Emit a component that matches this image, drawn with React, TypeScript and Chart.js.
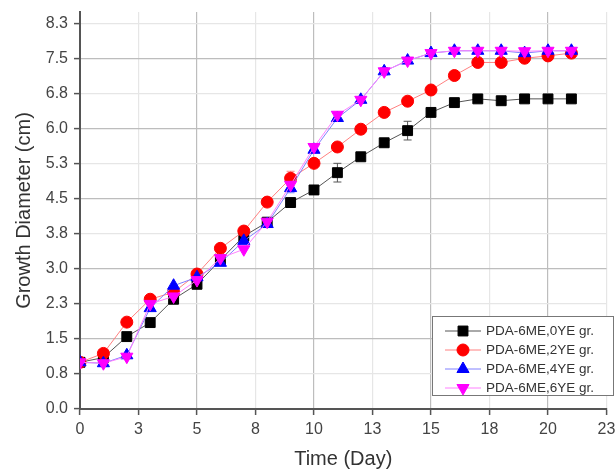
import React, { useEffect, useRef } from 'react';
import { Chart, registerables } from 'chart.js';
import { drawPoint } from 'chart.js/helpers';

Chart.register(...registerables);

const days = [0, 1, 2, 3, 4, 5, 6, 7, 8, 9, 10, 11, 12, 13, 14, 15, 16, 17, 18, 19, 20, 21];
const seriesLabels = ['PDA-6ME,0YE gr.', 'PDA-6ME,2YE gr.', 'PDA-6ME,4YE gr.', 'PDA-6ME,6YE gr.'];
const ye0 = [1.0, 1.1, 1.55, 1.85, 2.35, 2.67, 3.19, 3.7, 4.0, 4.42, 4.69, 5.06, 5.4, 5.7, 5.96, 6.35, 6.56, 6.64, 6.6, 6.64, 6.64, 6.64];
const ye2 = [1.0, 1.19, 1.86, 2.35, 2.5, 2.89, 3.44, 3.81, 4.43, 4.94, 5.26, 5.61, 5.99, 6.35, 6.59, 6.83, 7.14, 7.42, 7.42, 7.51, 7.56, 7.62];
const ye4 = [1.0, 0.98, 1.15, 2.16, 2.64, 2.82, 3.13, 3.6, 3.96, 4.73, 5.55, 6.23, 6.62, 7.23, 7.46, 7.62, 7.67, 7.67, 7.67, 7.62, 7.67, 7.67];
const ye6 = [1.0, 0.98, 1.12, 2.25, 2.41, 2.76, 3.23, 3.42, 4.01, 4.8, 5.61, 6.3, 6.62, 7.23, 7.46, 7.62, 7.67, 7.67, 7.67, 7.66, 7.67, 7.67];
const ye0Err = [0, 0, 0, 0, 0, 0, 0, 0, 0, 0, 0, 0.2, 0.05, 0, 0.2, 0, 0, 0, 0, 0, 0, 0];
const ye2Err = [0, 0, 0, 0, 0, 0, 0, 0, 0, 0.15, 0, 0, 0, 0, 0, 0, 0, 0, 0, 0, 0, 0];
const ye4Err = [0, 0, 0, 0, 0, 0, 0, 0, 0, 0.1, 0, 0, 0, 0.08, 0, 0, 0, 0, 0, 0, 0, 0];
const ye6Err = [0, 0, 0, 0, 0, 0, 0, 0, 0, 0, 0, 0, 0, 0, 0, 0, 0, 0, 0, 0, 0, 0];

const FONT = "'Liberation Sans', Arial, sans-serif";

export default function App() {
  const ref = useRef<HTMLCanvasElement>(null);

  useEffect(() => {
    if (!ref.current) return;
    const values = [ye0, ye2, ye4, ye6];
    const errs = [ye0Err, ye2Err, ye4Err, ye6Err];
    const fill = ['#000000', '#ff0000', '#0000ff', '#ff00ff'];
    const line = ['#555555', '#ff8080', '#8080ff', '#ff80ff'];
    const styles = ['rect', 'circle', 'triangle', 'triangle'];
    const radii = [7, 6, 7, 7];
    const rots = [0, 0, 0, 180];

    const errorBars = {
      id: 'errorBars',
      beforeDatasetsDraw(chart: any) {
        const ctx = chart.ctx;
        const xs = chart.scales.x;
        const ys = chart.scales.y;
        ctx.save();
        errs.forEach((arr, si) => {
          ctx.strokeStyle = line[si];
          ctx.lineWidth = 1;
          arr.forEach((e, i) => {
            if (!e) return;
            const px = xs.getPixelForValue(days[i]);
            const y1 = ys.getPixelForValue(values[si][i] + e);
            const y2 = ys.getPixelForValue(values[si][i] - e);
            ctx.beginPath();
            ctx.moveTo(px, y1); ctx.lineTo(px, y2);
            ctx.moveTo(px - 4, y1); ctx.lineTo(px + 4, y1);
            ctx.moveTo(px - 4, y2); ctx.lineTo(px + 4, y2);
            ctx.stroke();
          });
        });
        ctx.restore();
      },
    };

    const legendBox = {
      id: 'legendBox',
      afterDraw(chart: any) {
        const ctx = chart.ctx;
        ctx.save();
        ctx.fillStyle = '#ffffff';
        ctx.fillRect(432.5, 316.5, 181, 79);
        ctx.strokeStyle = '#777777';
        ctx.lineWidth = 1;
        ctx.strokeRect(432.5, 316.5, 181, 79);
        seriesLabels.forEach((lab, i) => {
          const y = 331 + i * 19;
          ctx.strokeStyle = line[i];
          ctx.lineWidth = 1;
          ctx.beginPath();
          ctx.moveTo(445, y); ctx.lineTo(481, y);
          ctx.stroke();
          ctx.fillStyle = fill[i];
          ctx.strokeStyle = fill[i];
          drawPoint(ctx, { pointStyle: styles[i], radius: radii[i], rotation: rots[i], borderWidth: 1 } as any, 463, y);
          ctx.fillStyle = '#333333';
          ctx.font = `13.5px ${FONT}`;
          ctx.textBaseline = 'middle';
          ctx.textAlign = 'left';
          ctx.fillText(lab, 486, y + 0.5);
        });
        ctx.restore();
      },
    };

    const gridColor = (c: any) => (c.index % 2 === 0 ? '#bdbdbd' : '#e6e6e6');

    const chart = new Chart(ref.current, {
      type: 'line',
      data: {
        datasets: values.map((vals, si) => ({
          label: seriesLabels[si],
          data: days.map((d, i) => ({ x: d, y: vals[i] })),
          borderColor: line[si],
          borderWidth: 1,
          backgroundColor: fill[si],
          pointBackgroundColor: fill[si],
          pointBorderColor: fill[si],
          pointBorderWidth: 1,
          pointStyle: styles[si] as any,
          pointRadius: radii[si],
          pointRotation: rots[si],
          tension: 0,
          fill: false,
          order: 4 - si,
        })),
      },
      options: {
        responsive: false,
        animation: false,
        layout: { padding: { left: 0, right: 9.5, top: 12, bottom: 0 } },
        plugins: { legend: { display: false }, tooltip: { enabled: false } },
        scales: {
          x: {
            type: 'linear',
            min: 0,
            max: 22.5,
            ticks: {
              stepSize: 2.5,
              padding: 5,
              color: '#444',
              font: { family: FONT, size: 16 },
              maxRotation: 0,
              callback: (v: any) => String(Math.round(Number(v))),
            },
            grid: { color: gridColor, lineWidth: 1.2, tickLength: 6, tickColor: '#555', tickWidth: 1.5 },
            border: { color: '#555', width: 2 },
            title: { display: true, text: 'Time (Day)', color: '#333', font: { family: FONT, size: 20 }, padding: { top: 2, bottom: 2 } },
            afterFit: (s: any) => { s.height = 64; s.paddingLeft = 0; s.paddingRight = 0; },
          },
          y: {
            type: 'linear',
            min: 0,
            max: 8.5,
            ticks: {
              stepSize: 0.75,
              includeBounds: false,
              padding: 6,
              color: '#444',
              font: { family: FONT, size: 16 },
              callback: (v: any) => Number(v).toFixed(1),
            },
            grid: { color: gridColor, lineWidth: 1.2, tickLength: 6, tickColor: '#555', tickWidth: 1.5 },
            border: { color: '#555', width: 2 },
            title: { display: true, text: 'Growth Diameter (cm)', color: '#333', font: { family: FONT, size: 20 }, padding: { top: 12, bottom: 2 } },
            afterFit: (s: any) => { s.width = 80; s.paddingTop = 0; s.paddingBottom = 0; },
          },
        },
      },
      plugins: [errorBars, legendBox],
    } as any);
    return () => chart.destroy();
  }, []);

  return (
    <div style={{ position: 'fixed', left: 0, top: 0, width: 616, height: 473, background: '#fff' }}>
      <canvas ref={ref} width={616} height={473} style={{ display: 'block', width: 616, height: 473 }} />
    </div>
  );
}
